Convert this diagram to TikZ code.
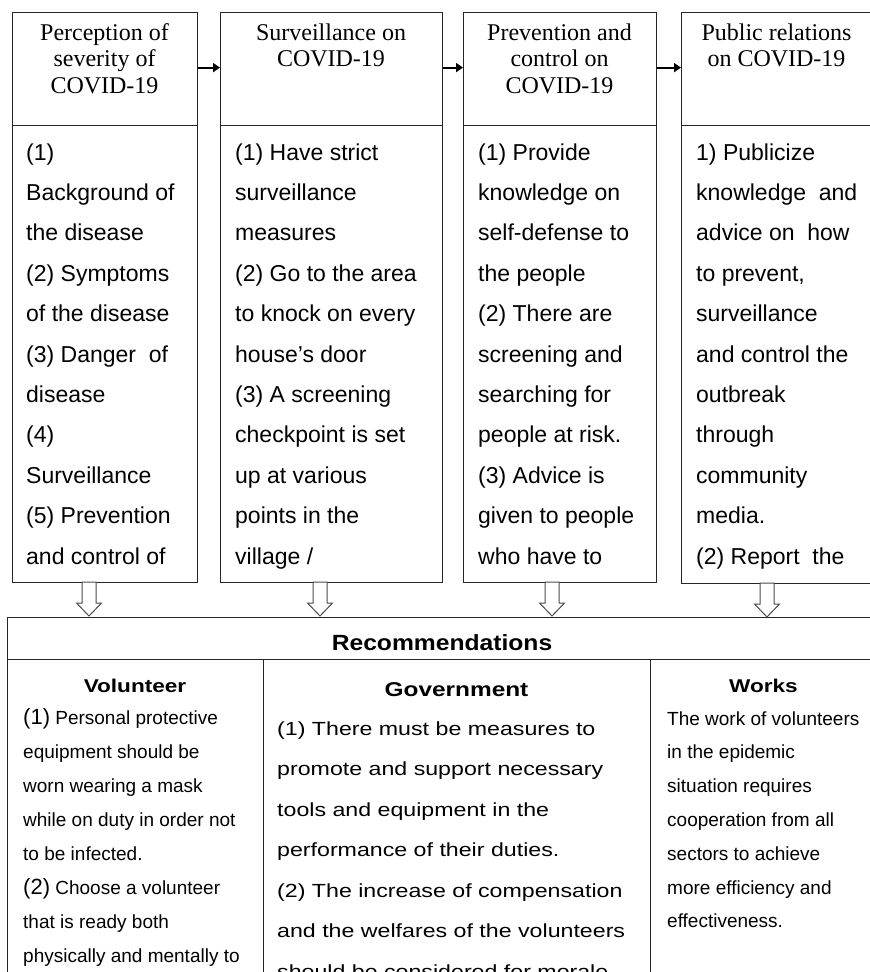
\documentclass[tikz,border=0pt]{standalone}
\usepackage{fontspec}
\setmainfont{Liberation Serif}
\newfontfamily\arialf{Liberation Sans}
\newfontfamily\recf[FakeStretch=1.22]{Liberation Sans}
\newfontfamily\titlef[FakeStretch=1.12]{Liberation Sans}
\usetikzlibrary{arrows.meta,calc}
\newcommand\hollowdown[1]{%
  \draw[harrow] ($(#1)+(-7,0)$) -- ($(#1)+(-7,21)$) -- ($(#1)+(-12.5,21)$) -- ($(#1)+(0,34)$)
    -- ($(#1)+(12.5,21)$) -- ($(#1)+(7,21)$) -- ($(#1)+(7,0)$) -- cycle;}
\begin{document}
\begin{tikzpicture}[x=1pt,y=-1pt,
  box/.style={draw=black!85, line width=1.2pt, inner sep=0pt, anchor=north west, rectangle},
  headtxt/.style={font=\fontsize{24}{27}\selectfont, anchor=base, inner sep=0pt},
  bodytxt/.style={font=\arialf\fontsize{23}{28}\selectfont, anchor=base west, inner sep=0pt},
  smalltxt/.style={font=\arialf\fontsize{19}{23}\selectfont, anchor=base west, inner sep=0pt},
  govtxt/.style={font=\recf\fontsize{19}{23}\selectfont, anchor=base west, inner sep=0pt},
  colhead/.style={font=\recf\bfseries\fontsize{18.5}{22}\selectfont, anchor=base, inner sep=0pt},
  conn/.style={line width=1.8pt, -{Triangle[length=7pt,width=9pt]}},
  harrow/.style={draw=black!70, line width=1pt, fill=white}]
\useasboundingbox (0,0) rectangle (870,972);
\clip (0,0) rectangle (870,972);

% top boxes
\node[box, minimum width=185, minimum height=113] (h1) at (12,12) {};
\node[box, minimum width=185, minimum height=457] (b1) at (12,125) {};
\node[box, minimum width=222, minimum height=113] (h2) at (220,12) {};
\node[box, minimum width=222, minimum height=457] (b2) at (220,125) {};
\node[box, minimum width=193, minimum height=113] (h3) at (463,12) {};
\node[box, minimum width=193, minimum height=457] (b3) at (463,125) {};
\node[box, minimum width=191, minimum height=113] (h4) at (681,12) {};
\node[box, minimum width=191, minimum height=458] (b4) at (681,125) {};

% header texts
\foreach \t [count=\i] in {Perception of, severity of, COVID-19}
  \node[headtxt] (ta\i) at (104.5,{40+26.7*(\i-1)}) {\t};
\foreach \t [count=\i] in {Surveillance on, COVID-19}
  \node[headtxt] (tb\i) at (331,{40+26.7*(\i-1)}) {\t};
\foreach \t [count=\i] in {Prevention and, control on, COVID-19}
  \node[headtxt] (tc\i) at (559.5,{40+26.7*(\i-1)}) {\t};
\foreach \t [count=\i] in {Public relations, on COVID-19}
  \node[headtxt] (td\i) at (776.5,{40+26.7*(\i-1)}) {\t};

% body texts
\foreach \t [count=\i] in {(1), Background of, the disease, (2) Symptoms, of the disease,
  (3) Danger\ \ of, disease, (4), Surveillance, (5) Prevention, and control of}
  \node[bodytxt] (ba\i) at (26,{160+40.4*(\i-1)}) {\t};
\foreach \t [count=\i] in {(1) Have strict, surveillance, measures, (2) Go to the area,
  to knock on every, house’s door, (3) A screening, checkpoint is set, up at various,
  points in the, village /}
  \node[bodytxt] (bb\i) at (235,{160+40.4*(\i-1)}) {\t};
\foreach \t [count=\i] in {(1) Provide, knowledge on, self-defense to, the people,
  (2) There are, screening and, searching for, people at risk., (3) Advice is,
  given to people, who have to}
  \node[bodytxt] (bc\i) at (478,{160+40.4*(\i-1)}) {\t};
\foreach \t [count=\i] in {1) Publicize, knowledge\ \ and, advice on\ \ how, {to prevent,},
  surveillance, and control the, outbreak, through, community, media., (2) Report\ \ the}
  \node[bodytxt] (bd\i) at (696,{160+40.4*(\i-1)}) {\t};

% arrows between boxes
\draw[conn] ([yshift=1.5pt]h1.east) -- ([yshift=1.5pt]h2.west);
\draw[conn] ([yshift=1.5pt]h2.east) -- ([yshift=1.5pt]h3.west);
\draw[conn] ([yshift=1.5pt]h3.east) -- ([yshift=1.5pt]h4.west);

% recommendations
\node[box, minimum width=870, minimum height=42] (rec) at (7,617) {};
\node[box, minimum width=256, minimum height=360] (vol) at (7,659) {};
\node[box, minimum width=387, minimum height=360] (gov) at (263,659) {};
\node[box, minimum width=227, minimum height=360] (wrk) at (650,659) {};
\node[font=\titlef\bfseries\fontsize{22}{26}\selectfont, anchor=base, inner sep=0pt] (rectitle) at (442,650) {Recommendations};

\node[colhead] (volh) at (135,692) {Volunteer};
\node[colhead, font=\recf\bfseries\fontsize{20}{24}\selectfont] (govh) at (456.5,696) {Government};
\node[colhead] (wrkh) at (763.5,692) {Works};

\foreach \t [count=\i] in {{\fontsize{22}{22}\selectfont(1)} Personal protective, equipment should be,
  worn wearing a mask, while on duty in order not, to be infected.,
  {\fontsize{22}{22}\selectfont(2)} Choose a volunteer, that is ready both, physically and mentally to}
  \node[smalltxt] (vl\i) at (23,{724+34.1*(\i-1)}) {\t};
\foreach \t [count=\i] in {(1) There must be measures to, promote and support necessary,
  tools and equipment in the, performance of their duties., (2) The increase of compensation,
  and the welfares of the volunteers, should be considered for morale}
  \node[govtxt] (gl\i) at (277,{735+40.5*(\i-1)}) {\t};
\foreach \t [count=\i] in {The work of volunteers, in the epidemic, situation requires,
  cooperation from all, sectors to achieve, more efficiency and, effectiveness.}
  \node[smalltxt] (wl\i) at (667,{725+33.8*(\i-1)}) {\t};

% hollow arrows down
\coordinate (a1) at (89,582);
\coordinate (a2) at (320,582);
\coordinate (a3) at (552,582);
\coordinate (a4) at (767,583);
\hollowdown{a1}
\hollowdown{a2}
\hollowdown{a3}
\hollowdown{a4}
\end{tikzpicture}
\end{document}
